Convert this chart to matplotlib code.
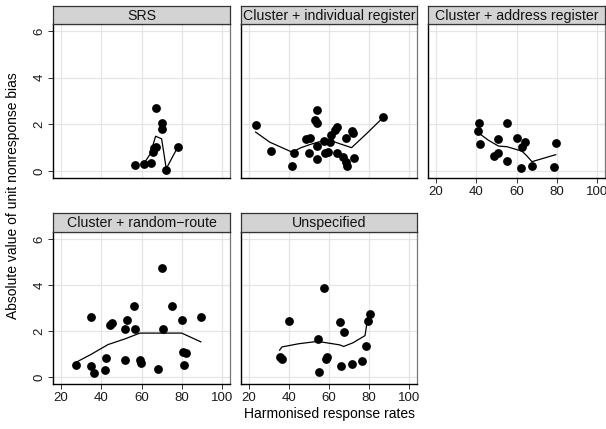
import numpy as np
import matplotlib
matplotlib.use("Agg")
import matplotlib.pyplot as plt

plt.rcParams["font.family"] = ["Liberation Sans", "DejaVu Sans"]

# Dane: punkty (x, y) i linia wygładzona dla każdego panelu
srs_x = [56.7, 61.2, 64.5, 65.5, 66.3, 67.0, 67.0, 70.3, 70.0, 72.3, 78.0]
srs_y = [0.26, 0.31, 0.34, 0.81, 0.98, 1.02, 2.71, 2.04, 1.79, 0.06, 1.02]
srs_lx = [61.2, 64.5, 67.0, 70.0, 72.3, 78.0]
srs_ly = [0.32, 0.75, 1.49, 1.38, 0.10, 1.02]

ind_x = [23.3, 30.8, 41.5, 42.7, 48.7, 50.7, 50.0, 54.0, 53.2, 54.0, 54.0, 54.0,
         57.3, 58.0, 59.3, 60.3, 61.2, 62.8, 64.0, 63.8, 68.7, 71.3, 72.2, 67.2,
         68.7, 68.8, 72.3, 86.8]
ind_y = [1.96, 0.85, 0.23, 0.76, 1.35, 1.43, 0.79, 2.62, 2.17, 2.05, 1.07, 0.50,
         1.30, 0.75, 0.81, 1.26, 1.55, 1.76, 1.90, 0.76, 1.42, 1.73, 1.64, 0.59,
         0.40, 0.23, 0.57, 2.33]
ind_lx = [23.3, 30.3, 36.0, 41.5, 46.0, 50.7, 55.0, 60.3, 66.0, 71.3, 79.0, 86.8]
ind_ly = [1.67, 1.24, 1.02, 0.81, 1.00, 1.14, 1.25, 1.32, 1.15, 1.00, 1.62, 2.27]

adr_x = [41.3, 41.0, 42.0, 48.8, 51.0, 51.0, 55.3, 55.3, 60.3, 62.7, 62.3, 64.3, 67.7, 78.7, 79.5]
adr_y = [2.06, 1.71, 1.14, 0.64, 0.75, 1.38, 2.05, 0.44, 1.43, 1.01, 0.13, 1.24, 0.20, 0.16, 1.19]
adr_lx = [41.0, 46.0, 51.0, 55.3, 62.7, 65.0, 67.7, 79.5]
adr_ly = [1.64, 1.32, 1.07, 1.04, 0.85, 0.66, 0.40, 0.70]

rr_x = [27.2, 35.0, 35.0, 36.5, 42.0, 42.5, 44.2, 45.2, 51.8, 51.8, 52.8, 56.3,
        56.8, 59.2, 59.8, 68.2, 70.3, 70.8, 75.0, 80.0, 80.7, 82.2, 81.0, 89.5]
rr_y = [0.52, 2.61, 0.48, 0.17, 0.29, 0.82, 2.27, 2.37, 2.10, 0.76, 2.50, 3.09,
        2.08, 0.74, 0.63, 0.36, 4.73, 2.08, 3.09, 2.46, 1.11, 1.06, 0.52, 2.59]
rr_lx = [27.2, 35.0, 43.3, 51.8, 59.2, 70.8, 80.0, 89.5]
rr_ly = [0.63, 0.99, 1.41, 1.66, 1.91, 1.91, 1.91, 1.53]

uns_x = [35.3, 36.5, 40.0, 54.3, 55.0, 57.5, 58.3, 59.2, 65.3, 66.0, 67.3, 71.7,
         76.7, 78.3, 79.5, 80.5]
uns_y = [0.88, 0.80, 2.44, 1.65, 0.20, 3.88, 0.79, 0.89, 2.39, 0.47, 1.97, 0.57,
         0.72, 1.36, 2.45, 2.73]
uns_lx = [35.3, 36.5, 45.0, 54.3, 65.3, 67.3, 72.0, 78.0, 79.5]
uns_ly = [1.17, 1.31, 1.45, 1.55, 1.40, 1.33, 1.49, 1.80, 2.63]

titles = ["SRS", "Cluster + individual register", "Cluster + address register",
          "Cluster + random\u2212route", "Unspecified"]
panels = [(srs_x, srs_y, srs_lx, srs_ly), (ind_x, ind_y, ind_lx, ind_ly),
          (adr_x, adr_y, adr_lx, adr_ly), (rr_x, rr_y, rr_lx, rr_ly),
          (uns_x, uns_y, uns_lx, uns_ly)]

W, H = 606, 429
fig = plt.figure(figsize=(W / 100, H / 100), dpi=100)

cols = [(53, 230), (241, 417), (428, 605)]
rows = [(24, 178, 6), (232, 384, 213)]  # (top plotu, dół plotu, top paska)

for i, (title, (px, py, lx, ly)) in enumerate(zip(titles, panels)):
    r, c = divmod(i, 3)
    x0, x1 = cols[c]
    top, bot, stop = rows[r]
    ax = fig.add_axes([x0 / W, 1 - bot / H, (x1 - x0) / W, (bot - top) / H])
    ax.scatter(px, py, s=40, color="black", zorder=3, linewidths=0)
    ax.plot(lx, ly, color="black", lw=0.9, zorder=2)
    ax.set_xlim(16, 104)
    ax.set_ylim(-0.3, 6.3)
    ax.set_xticks([20, 40, 60, 80, 100])
    ax.set_yticks([0, 2, 4, 6])
    ax.grid(True, color="#e5e5e5", lw=0.9)
    ax.set_axisbelow(True)
    for s in ["top", "right"]:
        ax.spines[s].set_color("#777777")
        ax.spines[s].set_linewidth(0.9)
    for s in ["left", "bottom"]:
        ax.spines[s].set_color("black")
        ax.spines[s].set_linewidth(1.0)
    ax.tick_params(length=3.5, width=0.7, color="#333333", labelsize=9.5,
                   labelcolor="#1a1a1a", pad=2)
    show_x = (i >= 2)
    show_y = (c == 0)
    ax.tick_params(axis="x", labelbottom=show_x)
    ax.tick_params(axis="y", labelleft=show_y, length=3.5 if show_y else 0)
    if not show_x:
        ax.tick_params(axis="x", length=0)
    for lab in ax.get_yticklabels():
        lab.set_rotation(90)
        lab.set_va("center")

    # pasek z tytułem panelu
    sax = fig.add_axes([x0 / W, 1 - top / H, (x1 - x0) / W, (top - stop) / H])
    sax.set_xticks([])
    sax.set_yticks([])
    sax.set_facecolor("#d3d3d3")
    for s in sax.spines.values():
        s.set_color("#333333")
        s.set_linewidth(0.9)
    sax.text(0.5, 0.45, title, ha="center", va="center", fontsize=10.2,
             transform=sax.transAxes, color="#111111")

fig.text(13 / W, 1 - 196 / H, "Absolute value of unit nonresponse bias",
         rotation=90, ha="center", va="center", fontsize=10)
fig.text(330 / W, 1 - 414 / H, "Harmonised response rates",
         ha="center", va="center", fontsize=10)

fig.savefig("out.png", dpi=100)
